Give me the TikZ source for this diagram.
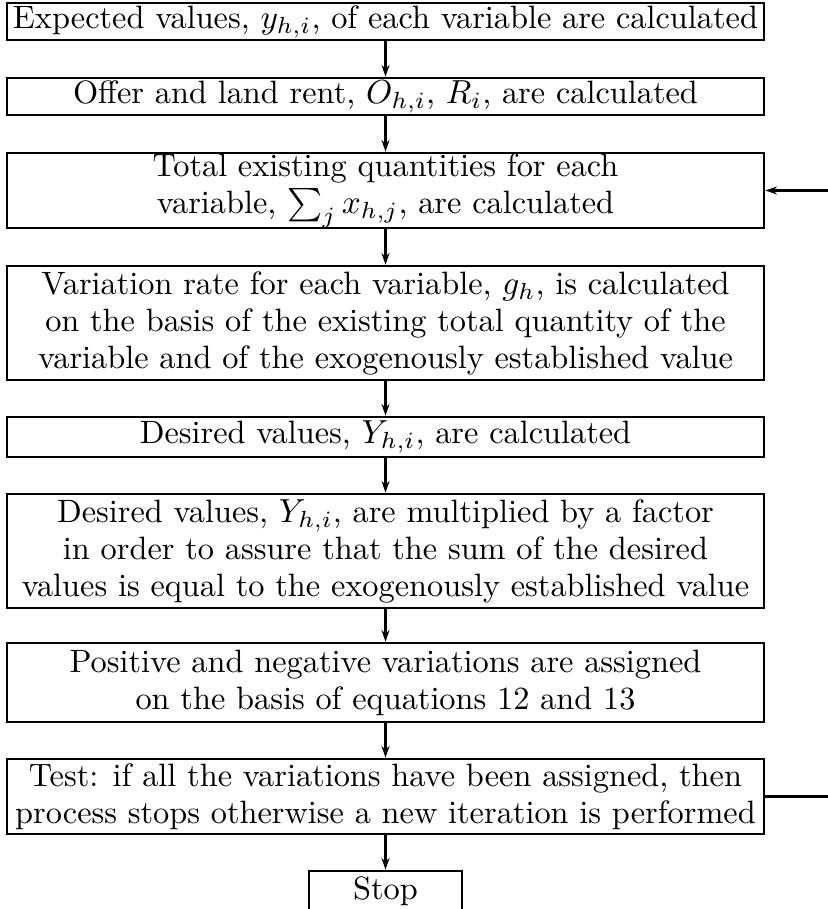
\documentclass[tikz,border=0pt]{standalone}
\usetikzlibrary{arrows.meta}
\begin{document}
\begin{tikzpicture}[x=0.3pt,y=-0.3pt,
  flowbox/.style={draw,line width=0.8pt,rectangle,inner sep=0pt,align=center,
    minimum width=757*0.3pt,font=\fontsize{9.7}{11.1}\selectfont},
  flowarrow/.style={line width=0.8pt,-{Stealth[length=3.5pt,width=2.4pt]}},
  flowline/.style={line width=0.8pt}]
\useasboundingbox (0,0) rectangle (828,909);
\node[flowbox,minimum height=37*0.3pt] (b1) at (385.5,21.5)
  {Expected values, $y_{h,i}$, of each variable are calculated};
\node[flowbox,minimum height=37*0.3pt] (b2) at (385.5,96.5)
  {Offer and land rent, $O_{h,i}$, $R_i$, are calculated};
\node[flowbox,minimum height=75*0.3pt] (b3) at (385.5,190.5)
  {Total existing quantities for each\\variable, $\textstyle\sum\nolimits_j x_{h,j}$, are calculated};
\node[flowbox,minimum height=114*0.3pt] (b4) at (385.5,323)
  {Variation rate for each variable, $g_h$, is calculated\\on the basis of the existing total quantity of the\\variable and of the exogenously established value};
\node[flowbox,minimum height=40*0.3pt] (b5) at (385.5,437)
  {Desired values, $Y_{h,i}$, are calculated};
\node[flowbox,minimum height=114*0.3pt] (b6) at (385.5,551)
  {Desired values, $Y_{h,i}$, are multiplied by a factor\\in order to assure that the sum of the desired\\values is equal to the exogenously established value};
\node[flowbox,minimum height=79*0.3pt] (b7) at (385.5,682.5)
  {Positive and negative variations are assigned\\on the basis of equations 12 and 13};
\node[flowbox,minimum height=75*0.3pt] (b8) at (385.5,796.5)
  {Test: if all the variations have been assigned, then\\process stops otherwise a new iteration is performed};
\node[flowbox,minimum width=153*0.3pt,minimum height=40*0.3pt] (stop) at (385.5,891)
  {Stop};
\coordinate (fbin) at (828,190.5);
\coordinate (fbout) at (828,796.5);
\draw[flowarrow] (b1) -- (b2);
\draw[flowarrow] (b2) -- (b3);
\draw[flowarrow] (b3) -- (b4);
\draw[flowarrow] (b4) -- (b5);
\draw[flowarrow] (b5) -- (b6);
\draw[flowarrow] (b6) -- (b7);
\draw[flowarrow] (b7) -- (b8);
\draw[flowarrow] (b8) -- (stop);
\draw[flowarrow] (fbin) -- (b3.east);
\draw[flowline] (b8.east) -- (fbout);
\end{tikzpicture}
\end{document}
